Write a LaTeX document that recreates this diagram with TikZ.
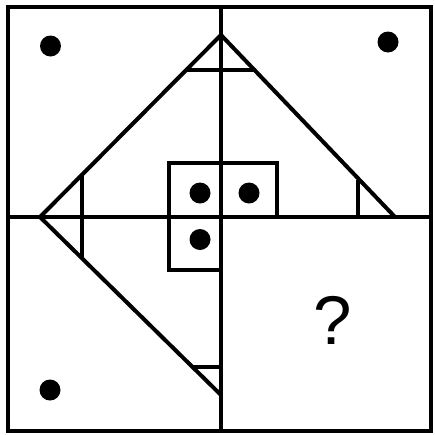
\documentclass[tikz,border=0pt]{standalone}
\usepackage{fontspec}
\setmainfont{Liberation Sans}
\begin{document}
\begin{tikzpicture}[x=1pt,y=-1pt,
  ln/.style={line width=4pt,line cap=butt,line join=miter},
  dotmark/.style={fill=black}]
\useasboundingbox (0,0) rectangle (435,434);
% outer frame and cross
\draw[ln] (7.5,7) rectangle (431,430.5);
\coordinate (T) at (221,7);
\coordinate (B) at (221,430.5);
\coordinate (L) at (7.5,217);
\coordinate (R) at (431,217);
\draw[ln] (T) -- (B);
\draw[ln] (L) -- (R);
% big diagonal shape
\coordinate (apex) at (221,35);
\coordinate (lft) at (40,217);
\coordinate (rgt) at (395,217);
\coordinate (bot) at (221,395);
\draw[ln] (rgt) -- (apex) -- (lft) -- (bot);
% small triangle cuts
\draw[ln] (186,70) -- (254,70);
\draw[ln] (82,175) -- (82,259);
\draw[ln] (358,180) -- (358,217);
\draw[ln] (193,367) -- (221,367);
% centre boxes
\draw[ln] (221,163) -- (169,163) -- (169,270) -- (221,270);
\draw[ln] (221,163) -- (277,163) -- (277,217);
% dots
\fill[dotmark] (200,193) circle (10.5);
\fill[dotmark] (249,193) circle (10.5);
\fill[dotmark] (200,239.5) circle (10.5);
\fill[dotmark] (50.5,46) circle (10.5);
\fill[dotmark] (388,42) circle (10.5);
\fill[dotmark] (50,390) circle (10.5);
% question mark
\node (q) at (332.5,320) {\fontsize{69}{69}\selectfont ?};
\end{tikzpicture}
\end{document}
